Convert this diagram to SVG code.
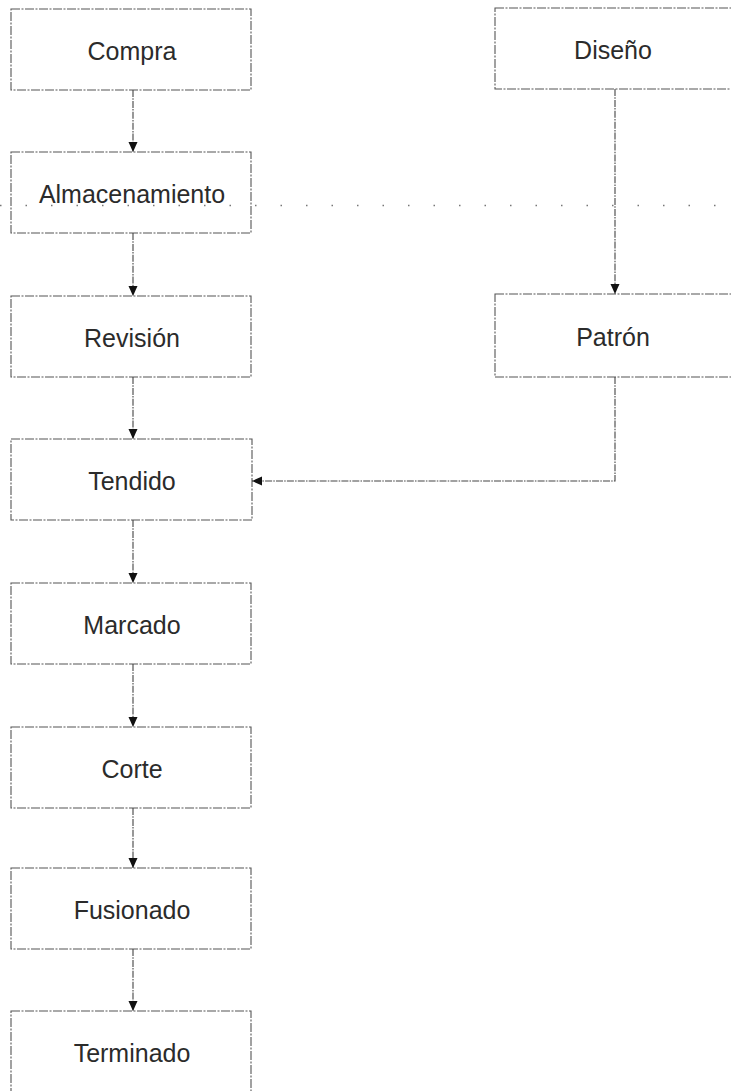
<svg xmlns="http://www.w3.org/2000/svg" width="731" height="1091" viewBox="0 0 731 1091">
<style>
.box{fill:none;stroke:#555;stroke-width:1.1;stroke-dasharray:9 1.5 2 1.5}
.lbl{font-family:"Liberation Sans",Arial,sans-serif;font-size:25px;fill:#2b2b2b;text-anchor:middle}
.con{fill:none;stroke:#444;stroke-width:1.1;stroke-dasharray:7 1.2 1.5 1.2}
.guide{stroke:#777;stroke-width:1.5;stroke-dasharray:1.5 24}
</style>
<defs>
<marker id="ah" markerWidth="10" markerHeight="10" refX="10" refY="5" orient="auto" markerUnits="userSpaceOnUse">
<path d="M0,0.5 L10,5 L0,9.5 Z" fill="#111"/>
</marker>
</defs>
<rect width="731" height="1091" fill="#fff"/>
<line class="guide" x1="0" y1="205.5" x2="731" y2="205.5"/>
<g id="compra"><rect class="box" x="11" y="9" width="240" height="81"/><text class="lbl" x="132" y="60">Compra</text></g>
<g id="almacenamiento"><rect class="box" x="11" y="152" width="240" height="81"/><text class="lbl" x="132" y="203">Almacenamiento</text></g>
<g id="revision"><rect class="box" x="11" y="296" width="240" height="81"/><text class="lbl" x="132" y="347">Revisión</text></g>
<g id="tendido"><rect class="box" x="11" y="439" width="241" height="81"/><text class="lbl" x="132" y="490">Tendido</text></g>
<g id="marcado"><rect class="box" x="11" y="583" width="240" height="81"/><text class="lbl" x="132" y="634">Marcado</text></g>
<g id="corte"><rect class="box" x="11" y="727" width="240" height="81"/><text class="lbl" x="132" y="778">Corte</text></g>
<g id="fusionado"><rect class="box" x="11" y="868" width="240" height="81"/><text class="lbl" x="132" y="919">Fusionado</text></g>
<g id="terminado"><rect class="box" x="11" y="1011" width="240" height="90"/><text class="lbl" x="132" y="1062">Terminado</text></g>
<g id="diseno"><rect class="box" x="495" y="8" width="250" height="81"/><text class="lbl" x="613" y="59">Diseño</text></g>
<g id="patron"><rect class="box" x="495" y="294" width="250" height="83"/><text class="lbl" x="613" y="346">Patrón</text></g>
<g id="connectors">
<line class="con" x1="133" y1="90" x2="133" y2="152" marker-end="url(#ah)"/>
<line class="con" x1="133" y1="233" x2="133" y2="296" marker-end="url(#ah)"/>
<line class="con" x1="133" y1="377" x2="133" y2="439" marker-end="url(#ah)"/>
<line class="con" x1="133" y1="520" x2="133" y2="583" marker-end="url(#ah)"/>
<line class="con" x1="133" y1="664" x2="133" y2="727" marker-end="url(#ah)"/>
<line class="con" x1="133" y1="808" x2="133" y2="868" marker-end="url(#ah)"/>
<line class="con" x1="133" y1="949" x2="133" y2="1011" marker-end="url(#ah)"/>
<line class="con" x1="615" y1="89" x2="615" y2="294" marker-end="url(#ah)"/>
<polyline class="con" points="615,377 615,481 252,481" marker-end="url(#ah)"/>
</g>
</svg>
